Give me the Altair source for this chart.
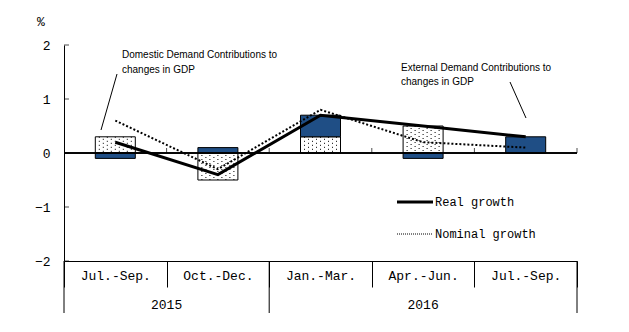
import altair as alt
import pandas as pd

# ---- data ----
quarters = ["Jul.-Sep.", "Oct.-Dec.", "Jan.-Mar.", "Apr.-Jun.", "Jul.-Sep."]
years = ["2015", "2015", "2016", "2016", "2016"]
domestic = [0.3, -0.5, 0.3, 0.5, 0.0]
external = [-0.1, 0.1, 0.4, -0.1, 0.3]
real_growth = [0.2, -0.4, 0.7, 0.5, 0.3]
nominal_growth = [0.6, -0.3, 0.8, 0.2, 0.1]
y_ticks = [-2, -1, 0, 1, 2]
legend_labels = ["Real growth", "Nominal growth"]
domestic_note = ["Domestic Demand Contributions to", "changes in GDP"]
external_note = ["External  Demand Contributions to", "changes in GDP"]

keys = [f"{q} {y}" for q, y in zip(quarters, years)]

W, H = 513, 216
FONT_MONO = "Liberation Mono"
FONT_SANS = "Liberation Sans"
BLUE = "#1F4E85"

bars_df = pd.DataFrame({
    "key": keys * 2,
    "component": ["Domestic"] * 5 + ["External"] * 5,
    "value": domestic + external,
    "order": [0] * 5 + [1] * 5,
})
dom_df = pd.DataFrame({"key": keys, "domestic": domestic})
lines_df = pd.DataFrame({"key": keys, "real": real_growth, "nominal": nominal_growth})
ticks_df = pd.DataFrame({"v": y_ticks})

xscale = alt.Scale(domain=keys, paddingInner=0, paddingOuter=0)
yscale = alt.Scale(domain=[-2, 2], nice=False)

x_axis = alt.Axis(
    title=None, tickBand="extent", tickSize=26, tickColor="black",
    domainColor="black",
    labelExpr="datum.value ? split(datum.value, ' ')[0] : ''",
    labelFont=FONT_MONO, labelFontSize=13, labelColor="black",
    labelPadding=-18, labelAngle=0, grid=False, labelOverlap=False,
)
y_axis = alt.Axis(
    title=None, values=y_ticks, ticks=False, labelPadding=14, format="d",
    labelFont=FONT_MONO, labelFontSize=13, labelColor="black",
    domainColor="black", grid=False,
)


def xenc(band=None):
    if band is None:
        return alt.X("key:N", scale=xscale, axis=x_axis, sort=keys)
    return alt.X("key:N", scale=xscale, axis=x_axis, sort=keys, bandPosition=band)


def yenc(field):
    return alt.Y(field, scale=yscale, axis=y_axis)


bars = alt.Chart(bars_df).mark_bar(size=40, stroke="black", strokeWidth=1).encode(
    x=xenc(),
    y=alt.Y("value:Q", stack="zero", scale=yscale, axis=y_axis),
    color=alt.Color("component:N", scale=alt.Scale(domain=["Domestic", "External"],
                                                   range=["white", BLUE]), legend=None),
    order=alt.Order("order:Q"),
)

dot_layers = []
for i, off in enumerate(range(-16, 17, 4)):
    dot_layers.append(
        alt.Chart(dom_df).mark_rule(color="black", strokeWidth=1, strokeDash=[1, 3],
                                    strokeDashOffset=(2 if i % 2 else 0), xOffset=off).encode(
            x=xenc(), y=yenc("domestic:Q"), y2=alt.datum(0)
        )
    )

zero = alt.Chart(ticks_df).mark_rule(color="black", strokeWidth=1).encode(y=alt.datum(0))
zero_ticks = alt.Chart(dom_df).mark_tick(orient="vertical", size=5, thickness=1,
                                         color="black", yOffset=-2.5).encode(
    x=xenc(1), y=alt.datum(0),
)
y_inner_ticks = alt.Chart(ticks_df).mark_tick(orient="horizontal", size=5, thickness=1,
                                              color="black", xOffset=2.5).encode(
    x=alt.value(0), y=yenc("v:Q")
)

real_line = alt.Chart(lines_df).mark_line(color="black", strokeWidth=3).encode(
    x=xenc(), y=yenc("real:Q")
)
nominal_line = alt.Chart(lines_df).mark_line(color="black", strokeWidth=2,
                                             strokeDash=[2, 2]).encode(
    x=xenc(), y=yenc("nominal:Q")
)

# bottom table: year labels and frame lines
year_df1 = pd.DataFrame({"key": [keys[1]], "year": [years[0]]})
year_df2 = pd.DataFrame({"key": [keys[3]], "year": [years[3]]})
year1 = alt.Chart(year_df1).mark_text(font=FONT_MONO, fontSize=13, color="black",
                                      baseline="middle").encode(
    x=xenc(0), y=alt.value(H + 44), text="year:N")
year2 = alt.Chart(year_df2).mark_text(font=FONT_MONO, fontSize=13, color="black",
                                      baseline="middle").encode(
    x=xenc(0.5), y=alt.value(H + 44), text="year:N")
sep_df = pd.DataFrame({"key": [keys[2]]})
year_sep = alt.Chart(sep_df).mark_rule(color="black", strokeWidth=1).encode(
    x=xenc(0), y=alt.value(H), y2=alt.value(H + 52))
frame_l = alt.Chart(sep_df).mark_rule(color="black", strokeWidth=1).encode(
    x=alt.value(0), y=alt.value(H), y2=alt.value(H + 52))
frame_r = alt.Chart(sep_df).mark_rule(color="black", strokeWidth=1).encode(
    x=alt.value(W), y=alt.value(H), y2=alt.value(H + 52))

# legend
leg_real = alt.Chart(sep_df).mark_rule(color="black", strokeWidth=3).encode(
    x=alt.value(333), x2=alt.value(369), y=alt.value(157))
leg_nom = alt.Chart(sep_df).mark_rule(color="black", strokeWidth=1, strokeDash=[1, 1]).encode(
    x=alt.value(333), x2=alt.value(369), y=alt.value(189))
leg_text_df = pd.DataFrame({"label": legend_labels, "ypos": [157, 189]})
leg_text = alt.Chart(leg_text_df).mark_text(font=FONT_MONO, fontSize=12, color="black",
                                            align="left", baseline="middle").encode(
    x=alt.value(371), y=alt.Y("ypos:Q", scale=None), text="label:N")

# annotations
dn_df = pd.DataFrame({"t": domestic_note, "ypos": [10, 25]})
en_df = pd.DataFrame({"t": external_note, "ypos": [23, 37]})
dn_text = alt.Chart(dn_df).mark_text(font=FONT_SANS, fontSize=10, color="black",
                                     align="left", baseline="middle").encode(
    x=alt.value(58), y=alt.Y("ypos:Q", scale=None), text="t:N")
en_text = alt.Chart(en_df).mark_text(font=FONT_SANS, fontSize=10, color="black",
                                     align="left", baseline="middle").encode(
    x=alt.value(337), y=alt.Y("ypos:Q", scale=None), text="t:N")
dn_lead = alt.Chart(sep_df).mark_rule(color="black", strokeWidth=1).encode(
    x=alt.value(53), y=alt.value(29), x2=alt.value(37), y2=alt.value(85))
en_lead = alt.Chart(sep_df).mark_rule(color="black", strokeWidth=1).encode(
    x=alt.value(446), y=alt.value(37), x2=alt.value(462), y2=alt.value(73))

pct = alt.Chart(sep_df).mark_text(text="%", font=FONT_MONO, fontSize=13, color="black",
                                  baseline="middle").encode(
    x=alt.value(-23), y=alt.value(-23))

chart = alt.layer(
    bars, *dot_layers, zero, zero_ticks, y_inner_ticks, real_line, nominal_line,
    year1, year2, year_sep, frame_l, frame_r, leg_real, leg_nom, leg_text,
    dn_text, en_text, dn_lead, en_lead, pct,
).properties(
    width=W, height=H,
    padding={"left": 64, "top": 45, "right": 52, "bottom": 71},
    autosize="none",
    background="white",
).configure_view(stroke=None)

chart.save("out.html", embed_options={"renderer": "svg", "actions": False})
